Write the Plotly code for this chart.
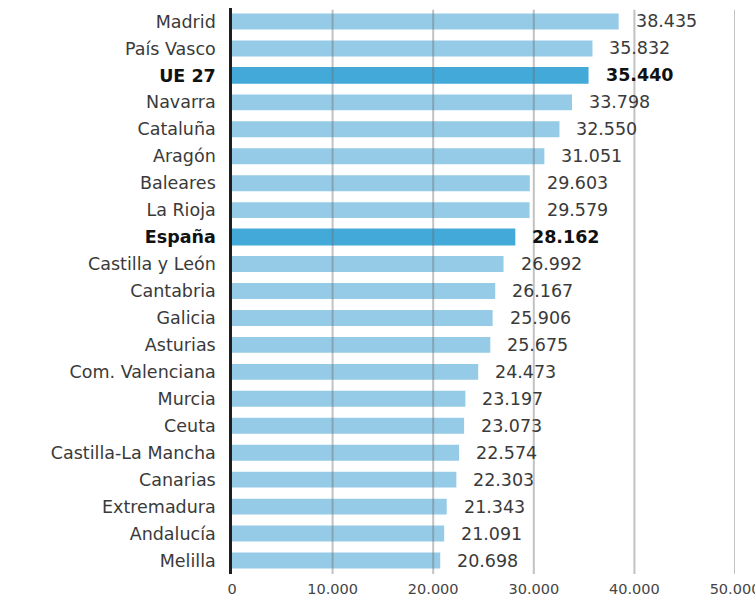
import plotly.graph_objects as go

regions = ["Madrid", "País Vasco", "UE 27", "Navarra", "Cataluña", "Aragón", "Baleares",
           "La Rioja", "España", "Castilla y León", "Cantabria", "Galicia", "Asturias",
           "Com. Valenciana", "Murcia", "Ceuta", "Castilla-La Mancha", "Canarias",
           "Extremadura", "Andalucía", "Melilla"]
values = [38435, 35832, 35440, 33798, 32550, 31051, 29603, 29579, 28162, 26992, 26167,
          25906, 25675, 24473, 23197, 23073, 22574, 22303, 21343, 21091, 20698]
highlighted = ["UE 27", "España"]
tick_vals = [0, 10000, 20000, 30000, 40000, 50000]
tick_text = ["0", "10.000", "20.000", "30.000", "40.000", "50.000"]

FONT = "DejaVu Sans"
light = "#95cbe7"
dark = "#42a9d9"

colors = [dark if r in highlighted else light for r in regions]
widths = [0.63 if r in highlighted else 0.59 for r in regions]

def fmt(v):
    return f"{v:,}".replace(",", ".")

cat_text = [f"<b><span style='color:#111'>{r}</span></b>" if r in highlighted else r for r in regions]

fig = go.Figure(go.Bar(
    x=values, y=regions, orientation="h",
    marker=dict(color=colors, line=dict(width=0)),
    width=widths, hoverinfo="skip",
))

annotations = []
for r, v in zip(regions, values):
    hl = r in highlighted
    annotations.append(dict(
        x=v, y=r, xref="x", yref="y", text=f"<b>{fmt(v)}</b>" if hl else fmt(v),
        showarrow=False, xanchor="left", yanchor="middle", xshift=15,
        font=dict(family=FONT, size=17.5, color="#111" if hl else "#3a3a3a"),
    ))

shapes = [dict(type="line", xref="x", yref="paper", x0=t, x1=t, y0=0, y1=0.997,
               line=dict(color="rgba(110,110,110,0.42)", width=2), layer="above")
          for t in tick_vals[1:]]

fig.update_layout(
    width=755, height=599,
    margin=dict(l=232, r=20, t=8, b=25),
    plot_bgcolor="white", paper_bgcolor="white",
    showlegend=False,
    annotations=annotations,
    shapes=shapes,
    xaxis=dict(range=[0, 50000], tickvals=tick_vals, ticktext=tick_text,
               showgrid=False, zeroline=False, showline=False, automargin=False,
               ticklabeloverflow="allow",
               ticks="outside", ticklen=2, tickcolor="rgba(0,0,0,0)",
               tickfont=dict(family=FONT, size=14.5, color="#444"), fixedrange=True),
    yaxis=dict(categoryorder="array", categoryarray=regions, autorange="reversed",
               tickvals=regions, ticktext=cat_text, automargin=False,
               showgrid=False, zeroline=False,
               showline=True, linecolor="#1e1e1e", linewidth=2.5,
               ticks="outside", ticklen=10, tickcolor="rgba(0,0,0,0)",
               tickfont=dict(family=FONT, size=17.5, color="#3a3a3a"), fixedrange=True),
)

fig.write_html("out.html", config={"displayModeBar": False},
               post_script="document.body.style.margin='0';document.body.style.overflow='hidden';")
